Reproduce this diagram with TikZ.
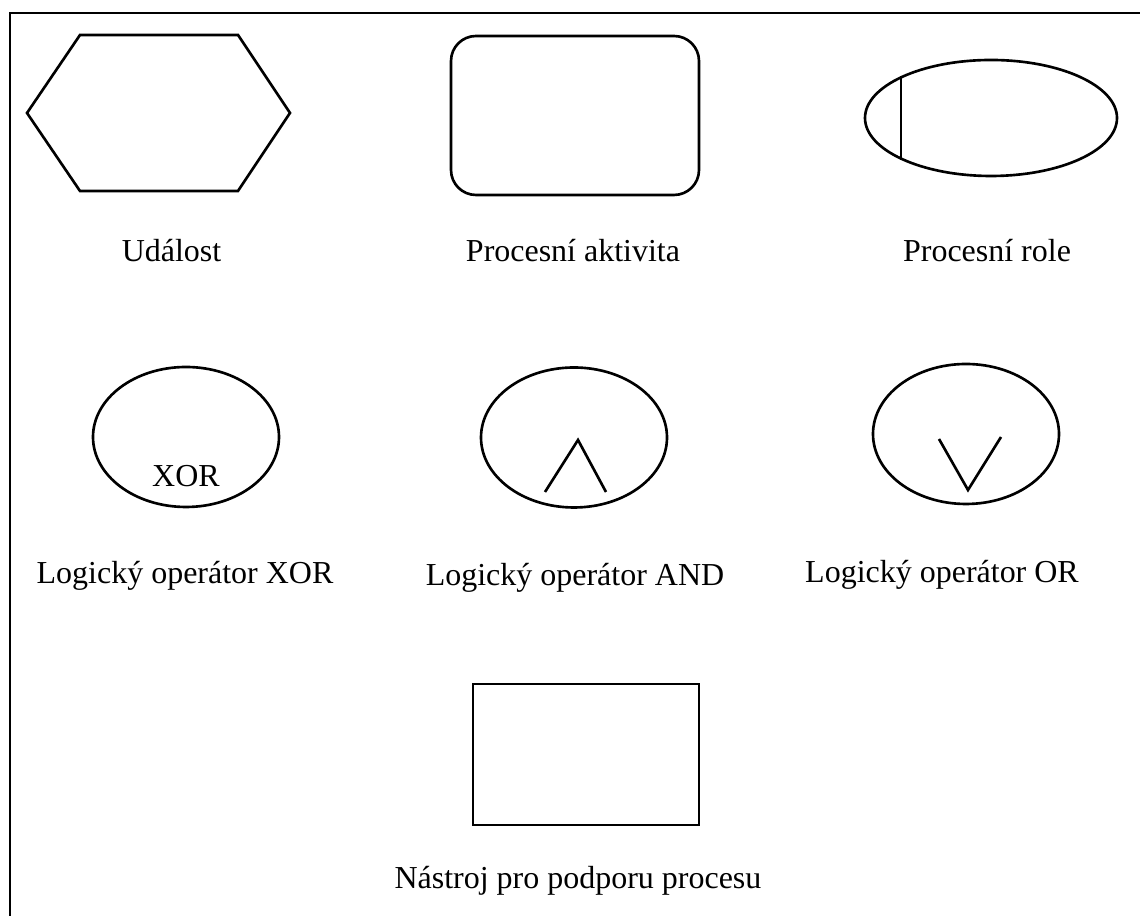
\documentclass[tikz,border=0pt]{standalone}
\usepackage{fontspec}
\setmainfont{Liberation Serif}
\usetikzlibrary{shapes.geometric}
\tikzset{
  shapeline/.style={draw,line width=0.75pt},
  opnode/.style={shapeline,ellipse,inner sep=0pt,minimum width=1.86cm,minimum height=1.40cm},
  lbl/.style={font=\fontsize{9.1}{11}\selectfont,inner sep=0pt,anchor=base}
}
\begin{document}
\begin{tikzpicture}
\useasboundingbox (0,0) rectangle (11.4,-9.16);
% Outer frame (runs off at right and bottom)
\draw[line width=0.75pt] (0.10,-9.6) -- (0.10,-0.13) -- (11.6,-0.13);

% Event
\draw[shapeline] (0.27,-1.13) -- (0.80,-0.35) -- (2.38,-0.35) -- (2.90,-1.13) -- (2.38,-1.91) -- (0.80,-1.91) -- cycle;
\node[lbl] (evlbl) at (1.715,-2.62) {Událost};

% Process activity
\node[shapeline,rounded corners=0.25cm,minimum width=2.48cm,minimum height=1.59cm] (act) at (5.75,-1.155) {};
\node[lbl] (actlbl) at (5.73,-2.62) {Procesní aktivita};

% Process role
\node[shapeline,ellipse,inner sep=0pt,minimum width=2.52cm,minimum height=1.16cm] (role) at (9.91,-1.18) {};
\draw[shapeline] (role.155) -- (role.205);
\node[lbl] (rolelbl) at (9.87,-2.62) {Procesní role};

% Logical operators
\foreach \nm/\x/\y in {xor/1.86/-4.37, and/5.74/-4.375, or/9.66/-4.34} {
  \node[opnode] (\nm) at (\x,\y) {};
}
\node[lbl] (xortxt) at (1.86,-4.87) {XOR};
\draw[shapeline] (5.45,-4.92) -- (5.78,-4.40) -- (6.06,-4.92);
\draw[shapeline] (9.39,-4.39) -- (9.68,-4.90) -- (10.01,-4.37);
\node[lbl] (xorlbl) at (1.85,-5.84) {Logický operátor XOR};
\node[lbl] (andlbl) at (5.75,-5.86) {Logický operátor AND};
\node[lbl] (orlbl) at (9.42,-5.83) {Logický operátor OR};

% Support tool
\node[shapeline,minimum width=2.26cm,minimum height=1.41cm] (tool) at (5.86,-7.545) {};
\node[lbl] (toollbl) at (5.78,-8.89) {Nástroj pro podporu procesu};
\end{tikzpicture}
\end{document}
